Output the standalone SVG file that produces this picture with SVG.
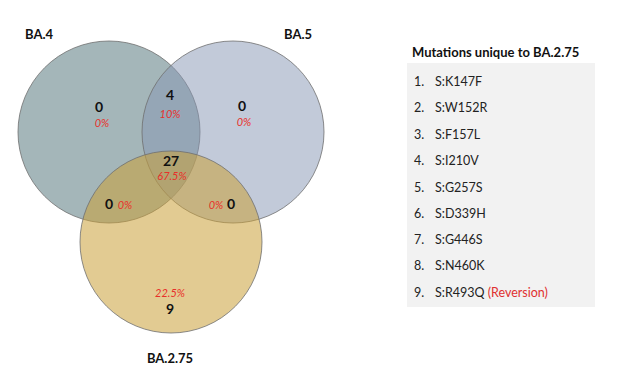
<svg xmlns="http://www.w3.org/2000/svg" width="628" height="380" viewBox="0 0 628 380">
<style>
.lab{font-family:Lato,"Open Sans",sans-serif;font-weight:bold;font-size:13px;fill:#111}
.num{font-family:Lato,"Open Sans",sans-serif;font-weight:bold;font-size:14px;fill:#111;text-anchor:middle}
.pct{font-family:Lato,"Open Sans",sans-serif;font-style:italic;font-size:11px;fill:#e8302a;text-anchor:middle}
.item{font-family:Lato,"Open Sans",sans-serif;font-size:12.5px;fill:#222}
.circ{stroke:#6f6f6f;stroke-width:0.8}
</style>
<rect width="628" height="380" fill="#fff"/>
<g id="ba4"><circle class="circ" cx="109" cy="132" r="91" fill="#4a6e73" fill-opacity="0.5"/></g>
<g id="ba5"><circle class="circ" cx="233" cy="132" r="91" fill="#8596b3" fill-opacity="0.5"/></g>
<g id="ba275"><circle class="circ" cx="171" cy="242" r="91" fill="#caa039" fill-opacity="0.55"/></g>
<g id="labels">
<text class="lab" x="25" y="39">BA.4</text>
<text class="lab" x="284" y="39">BA.5</text>
<text class="lab" x="170" y="363" text-anchor="middle">BA.2.75</text>
<text class="num" x="99" y="112">0</text><text class="pct" x="102" y="127">0%</text>
<text class="num" x="170" y="100">4</text><text class="pct" x="170" y="118">10%</text>
<text class="num" x="242" y="111">0</text><text class="pct" x="244" y="126">0%</text>
<text class="num" x="171" y="166">27</text><text class="pct" x="172" y="180">67.5%</text>
<text class="num" x="109" y="209">0</text><text class="pct" x="125" y="209">0%</text>
<text class="pct" x="216" y="209">0%</text><text class="num" x="231" y="209">0</text>
<text class="pct" x="170" y="297">22.5%</text><text class="num" x="170" y="314">9</text>
</g>
<g id="list">
<text class="lab" x="412" y="57">Mutations unique to BA.2.75</text>
<rect x="407" y="63" width="188" height="244" fill="#f2f2f2"/>
<text class="item" x="414" y="86">1.</text><text class="item" x="435" y="86">S:K147F</text>
<text class="item" x="414" y="112">2.</text><text class="item" x="435" y="112">S:W152R</text>
<text class="item" x="414" y="139">3.</text><text class="item" x="435" y="139">S:F157L</text>
<text class="item" x="414" y="165">4.</text><text class="item" x="435" y="165">S:I210V</text>
<text class="item" x="414" y="192">5.</text><text class="item" x="435" y="192">S:G257S</text>
<text class="item" x="414" y="218">6.</text><text class="item" x="435" y="218">S:D339H</text>
<text class="item" x="414" y="244">7.</text><text class="item" x="435" y="244">S:G446S</text>
<text class="item" x="414" y="270">8.</text><text class="item" x="435" y="270">S:N460K</text>
<text class="item" x="414" y="297">9.</text><text class="item" x="435" y="297">S:R493Q <tspan fill="#e03030">(Reversion)</tspan></text>
</g>
</svg>
